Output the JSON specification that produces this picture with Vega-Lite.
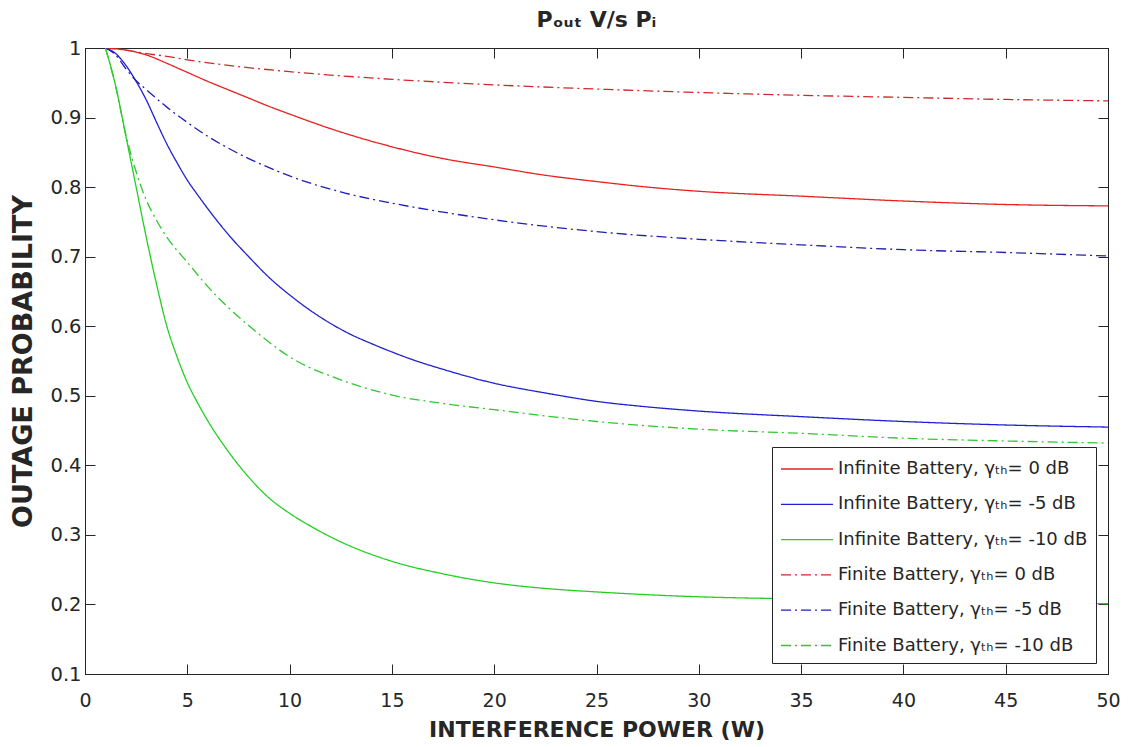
{
  "$schema": "https://vega.github.io/schema/vega-lite/v6.json",
  "width": 1023,
  "height": 626,
  "autosize": {"type": "none"},
  "padding": {"left": 85, "top": 48, "right": 23, "bottom": 73},
  "background": "white",
  "config": {
    "view": {"stroke": "#262626", "strokeWidth": 1},
    "font": "DejaVu Sans"
  },
  "title": {
    "text": "Pₒᵤₜ V/s Pᵢ",
    "font": "DejaVu Sans",
    "fontSize": 22,
    "fontWeight": "bold",
    "color": "#262626",
    "anchor": "middle",
    "offset": 6
  },
  "datasets": {
    "curves": [
      {"x": 1, "p": 1.0, "series": "Infinite Battery, γₜₕ= 0 dB"},
      {"x": 2, "p": 0.997, "series": "Infinite Battery, γₜₕ= 0 dB"},
      {"x": 3, "p": 0.99, "series": "Infinite Battery, γₜₕ= 0 dB"},
      {"x": 4, "p": 0.978, "series": "Infinite Battery, γₜₕ= 0 dB"},
      {"x": 5, "p": 0.965, "series": "Infinite Battery, γₜₕ= 0 dB"},
      {"x": 6, "p": 0.952, "series": "Infinite Battery, γₜₕ= 0 dB"},
      {"x": 7, "p": 0.94, "series": "Infinite Battery, γₜₕ= 0 dB"},
      {"x": 8, "p": 0.928, "series": "Infinite Battery, γₜₕ= 0 dB"},
      {"x": 9, "p": 0.916, "series": "Infinite Battery, γₜₕ= 0 dB"},
      {"x": 10, "p": 0.905, "series": "Infinite Battery, γₜₕ= 0 dB"},
      {"x": 12, "p": 0.884, "series": "Infinite Battery, γₜₕ= 0 dB"},
      {"x": 15, "p": 0.858, "series": "Infinite Battery, γₜₕ= 0 dB"},
      {"x": 17.5, "p": 0.841, "series": "Infinite Battery, γₜₕ= 0 dB"},
      {"x": 20, "p": 0.829, "series": "Infinite Battery, γₜₕ= 0 dB"},
      {"x": 22.5, "p": 0.817, "series": "Infinite Battery, γₜₕ= 0 dB"},
      {"x": 25, "p": 0.808, "series": "Infinite Battery, γₜₕ= 0 dB"},
      {"x": 27.5, "p": 0.8, "series": "Infinite Battery, γₜₕ= 0 dB"},
      {"x": 30, "p": 0.794, "series": "Infinite Battery, γₜₕ= 0 dB"},
      {"x": 35, "p": 0.787, "series": "Infinite Battery, γₜₕ= 0 dB"},
      {"x": 40, "p": 0.78, "series": "Infinite Battery, γₜₕ= 0 dB"},
      {"x": 45, "p": 0.775, "series": "Infinite Battery, γₜₕ= 0 dB"},
      {"x": 50, "p": 0.773, "series": "Infinite Battery, γₜₕ= 0 dB"},

      {"x": 1, "p": 1.0, "series": "Infinite Battery, γₜₕ= -5 dB"},
      {"x": 1.5, "p": 0.992, "series": "Infinite Battery, γₜₕ= -5 dB"},
      {"x": 2, "p": 0.975, "series": "Infinite Battery, γₜₕ= -5 dB"},
      {"x": 2.5, "p": 0.952, "series": "Infinite Battery, γₜₕ= -5 dB"},
      {"x": 3, "p": 0.925, "series": "Infinite Battery, γₜₕ= -5 dB"},
      {"x": 3.5, "p": 0.893, "series": "Infinite Battery, γₜₕ= -5 dB"},
      {"x": 4, "p": 0.862, "series": "Infinite Battery, γₜₕ= -5 dB"},
      {"x": 4.5, "p": 0.835, "series": "Infinite Battery, γₜₕ= -5 dB"},
      {"x": 5, "p": 0.81, "series": "Infinite Battery, γₜₕ= -5 dB"},
      {"x": 5.5, "p": 0.789, "series": "Infinite Battery, γₜₕ= -5 dB"},
      {"x": 6, "p": 0.769, "series": "Infinite Battery, γₜₕ= -5 dB"},
      {"x": 7, "p": 0.732, "series": "Infinite Battery, γₜₕ= -5 dB"},
      {"x": 8, "p": 0.7, "series": "Infinite Battery, γₜₕ= -5 dB"},
      {"x": 9, "p": 0.67, "series": "Infinite Battery, γₜₕ= -5 dB"},
      {"x": 10, "p": 0.645, "series": "Infinite Battery, γₜₕ= -5 dB"},
      {"x": 11, "p": 0.623, "series": "Infinite Battery, γₜₕ= -5 dB"},
      {"x": 12, "p": 0.604, "series": "Infinite Battery, γₜₕ= -5 dB"},
      {"x": 13, "p": 0.588, "series": "Infinite Battery, γₜₕ= -5 dB"},
      {"x": 14, "p": 0.575, "series": "Infinite Battery, γₜₕ= -5 dB"},
      {"x": 15, "p": 0.563, "series": "Infinite Battery, γₜₕ= -5 dB"},
      {"x": 16, "p": 0.552, "series": "Infinite Battery, γₜₕ= -5 dB"},
      {"x": 17.5, "p": 0.538, "series": "Infinite Battery, γₜₕ= -5 dB"},
      {"x": 20, "p": 0.518, "series": "Infinite Battery, γₜₕ= -5 dB"},
      {"x": 22.5, "p": 0.504, "series": "Infinite Battery, γₜₕ= -5 dB"},
      {"x": 25, "p": 0.492, "series": "Infinite Battery, γₜₕ= -5 dB"},
      {"x": 27.5, "p": 0.484, "series": "Infinite Battery, γₜₕ= -5 dB"},
      {"x": 30, "p": 0.478, "series": "Infinite Battery, γₜₕ= -5 dB"},
      {"x": 35, "p": 0.47, "series": "Infinite Battery, γₜₕ= -5 dB"},
      {"x": 40, "p": 0.463, "series": "Infinite Battery, γₜₕ= -5 dB"},
      {"x": 45, "p": 0.458, "series": "Infinite Battery, γₜₕ= -5 dB"},
      {"x": 50, "p": 0.455, "series": "Infinite Battery, γₜₕ= -5 dB"},

      {"x": 1, "p": 1.0, "series": "Infinite Battery, γₜₕ= -10 dB"},
      {"x": 1.5, "p": 0.945, "series": "Infinite Battery, γₜₕ= -10 dB"},
      {"x": 2, "p": 0.873, "series": "Infinite Battery, γₜₕ= -10 dB"},
      {"x": 2.5, "p": 0.8, "series": "Infinite Battery, γₜₕ= -10 dB"},
      {"x": 3, "p": 0.727, "series": "Infinite Battery, γₜₕ= -10 dB"},
      {"x": 3.5, "p": 0.66, "series": "Infinite Battery, γₜₕ= -10 dB"},
      {"x": 4, "p": 0.6, "series": "Infinite Battery, γₜₕ= -10 dB"},
      {"x": 4.5, "p": 0.556, "series": "Infinite Battery, γₜₕ= -10 dB"},
      {"x": 5, "p": 0.519, "series": "Infinite Battery, γₜₕ= -10 dB"},
      {"x": 5.5, "p": 0.49, "series": "Infinite Battery, γₜₕ= -10 dB"},
      {"x": 6, "p": 0.464, "series": "Infinite Battery, γₜₕ= -10 dB"},
      {"x": 7, "p": 0.42, "series": "Infinite Battery, γₜₕ= -10 dB"},
      {"x": 8, "p": 0.383, "series": "Infinite Battery, γₜₕ= -10 dB"},
      {"x": 9, "p": 0.353, "series": "Infinite Battery, γₜₕ= -10 dB"},
      {"x": 10, "p": 0.331, "series": "Infinite Battery, γₜₕ= -10 dB"},
      {"x": 11, "p": 0.313, "series": "Infinite Battery, γₜₕ= -10 dB"},
      {"x": 12.5, "p": 0.29, "series": "Infinite Battery, γₜₕ= -10 dB"},
      {"x": 15, "p": 0.262, "series": "Infinite Battery, γₜₕ= -10 dB"},
      {"x": 17.5, "p": 0.244, "series": "Infinite Battery, γₜₕ= -10 dB"},
      {"x": 20, "p": 0.231, "series": "Infinite Battery, γₜₕ= -10 dB"},
      {"x": 22.5, "p": 0.223, "series": "Infinite Battery, γₜₕ= -10 dB"},
      {"x": 25, "p": 0.218, "series": "Infinite Battery, γₜₕ= -10 dB"},
      {"x": 30, "p": 0.211, "series": "Infinite Battery, γₜₕ= -10 dB"},
      {"x": 35, "p": 0.208, "series": "Infinite Battery, γₜₕ= -10 dB"},
      {"x": 40, "p": 0.206, "series": "Infinite Battery, γₜₕ= -10 dB"},
      {"x": 45, "p": 0.203, "series": "Infinite Battery, γₜₕ= -10 dB"},
      {"x": 50, "p": 0.201, "series": "Infinite Battery, γₜₕ= -10 dB"},

      {"x": 1, "p": 1.0, "series": "Finite Battery, γₜₕ= 0 dB"},
      {"x": 2, "p": 0.997, "series": "Finite Battery, γₜₕ= 0 dB"},
      {"x": 3, "p": 0.992, "series": "Finite Battery, γₜₕ= 0 dB"},
      {"x": 4, "p": 0.988, "series": "Finite Battery, γₜₕ= 0 dB"},
      {"x": 5, "p": 0.983, "series": "Finite Battery, γₜₕ= 0 dB"},
      {"x": 7, "p": 0.975, "series": "Finite Battery, γₜₕ= 0 dB"},
      {"x": 10, "p": 0.966, "series": "Finite Battery, γₜₕ= 0 dB"},
      {"x": 12.5, "p": 0.96, "series": "Finite Battery, γₜₕ= 0 dB"},
      {"x": 15, "p": 0.955, "series": "Finite Battery, γₜₕ= 0 dB"},
      {"x": 20, "p": 0.947, "series": "Finite Battery, γₜₕ= 0 dB"},
      {"x": 25, "p": 0.941, "series": "Finite Battery, γₜₕ= 0 dB"},
      {"x": 30, "p": 0.936, "series": "Finite Battery, γₜₕ= 0 dB"},
      {"x": 35, "p": 0.932, "series": "Finite Battery, γₜₕ= 0 dB"},
      {"x": 40, "p": 0.929, "series": "Finite Battery, γₜₕ= 0 dB"},
      {"x": 45, "p": 0.926, "series": "Finite Battery, γₜₕ= 0 dB"},
      {"x": 50, "p": 0.924, "series": "Finite Battery, γₜₕ= 0 dB"},

      {"x": 1, "p": 1.0, "series": "Finite Battery, γₜₕ= -5 dB"},
      {"x": 1.5, "p": 0.99, "series": "Finite Battery, γₜₕ= -5 dB"},
      {"x": 2, "p": 0.97, "series": "Finite Battery, γₜₕ= -5 dB"},
      {"x": 2.5, "p": 0.953, "series": "Finite Battery, γₜₕ= -5 dB"},
      {"x": 3, "p": 0.94, "series": "Finite Battery, γₜₕ= -5 dB"},
      {"x": 4, "p": 0.915, "series": "Finite Battery, γₜₕ= -5 dB"},
      {"x": 5, "p": 0.893, "series": "Finite Battery, γₜₕ= -5 dB"},
      {"x": 6, "p": 0.873, "series": "Finite Battery, γₜₕ= -5 dB"},
      {"x": 7, "p": 0.856, "series": "Finite Battery, γₜₕ= -5 dB"},
      {"x": 8, "p": 0.841, "series": "Finite Battery, γₜₕ= -5 dB"},
      {"x": 9, "p": 0.828, "series": "Finite Battery, γₜₕ= -5 dB"},
      {"x": 10, "p": 0.816, "series": "Finite Battery, γₜₕ= -5 dB"},
      {"x": 12.5, "p": 0.793, "series": "Finite Battery, γₜₕ= -5 dB"},
      {"x": 15, "p": 0.777, "series": "Finite Battery, γₜₕ= -5 dB"},
      {"x": 17.5, "p": 0.764, "series": "Finite Battery, γₜₕ= -5 dB"},
      {"x": 20, "p": 0.753, "series": "Finite Battery, γₜₕ= -5 dB"},
      {"x": 25, "p": 0.736, "series": "Finite Battery, γₜₕ= -5 dB"},
      {"x": 30, "p": 0.725, "series": "Finite Battery, γₜₕ= -5 dB"},
      {"x": 35, "p": 0.717, "series": "Finite Battery, γₜₕ= -5 dB"},
      {"x": 40, "p": 0.71, "series": "Finite Battery, γₜₕ= -5 dB"},
      {"x": 45, "p": 0.706, "series": "Finite Battery, γₜₕ= -5 dB"},
      {"x": 50, "p": 0.701, "series": "Finite Battery, γₜₕ= -5 dB"},

      {"x": 1, "p": 1.0, "series": "Finite Battery, γₜₕ= -10 dB"},
      {"x": 1.5, "p": 0.945, "series": "Finite Battery, γₜₕ= -10 dB"},
      {"x": 2, "p": 0.875, "series": "Finite Battery, γₜₕ= -10 dB"},
      {"x": 2.5, "p": 0.822, "series": "Finite Battery, γₜₕ= -10 dB"},
      {"x": 3, "p": 0.781, "series": "Finite Battery, γₜₕ= -10 dB"},
      {"x": 3.5, "p": 0.752, "series": "Finite Battery, γₜₕ= -10 dB"},
      {"x": 4, "p": 0.728, "series": "Finite Battery, γₜₕ= -10 dB"},
      {"x": 5, "p": 0.692, "series": "Finite Battery, γₜₕ= -10 dB"},
      {"x": 6, "p": 0.657, "series": "Finite Battery, γₜₕ= -10 dB"},
      {"x": 7, "p": 0.627, "series": "Finite Battery, γₜₕ= -10 dB"},
      {"x": 8, "p": 0.601, "series": "Finite Battery, γₜₕ= -10 dB"},
      {"x": 9, "p": 0.577, "series": "Finite Battery, γₜₕ= -10 dB"},
      {"x": 10, "p": 0.556, "series": "Finite Battery, γₜₕ= -10 dB"},
      {"x": 12.5, "p": 0.523, "series": "Finite Battery, γₜₕ= -10 dB"},
      {"x": 15, "p": 0.501, "series": "Finite Battery, γₜₕ= -10 dB"},
      {"x": 17.5, "p": 0.489, "series": "Finite Battery, γₜₕ= -10 dB"},
      {"x": 20, "p": 0.48, "series": "Finite Battery, γₜₕ= -10 dB"},
      {"x": 25, "p": 0.463, "series": "Finite Battery, γₜₕ= -10 dB"},
      {"x": 30, "p": 0.452, "series": "Finite Battery, γₜₕ= -10 dB"},
      {"x": 35, "p": 0.446, "series": "Finite Battery, γₜₕ= -10 dB"},
      {"x": 40, "p": 0.439, "series": "Finite Battery, γₜₕ= -10 dB"},
      {"x": 45, "p": 0.435, "series": "Finite Battery, γₜₕ= -10 dB"},
      {"x": 50, "p": 0.432, "series": "Finite Battery, γₜₕ= -10 dB"}
    ]
  },
  "data": {"name": "curves"},
  "layer": [
    {
      "mark": {"type": "line", "strokeWidth": 1.3, "interpolate": "monotone", "clip": true},
      "encoding": {
        "x": {
          "field": "x", "type": "quantitative",
          "scale": {"domain": [0, 50], "nice": false, "zero": false},
          "axis": {
            "orient": "bottom",
            "values": [0, 5, 10, 15, 20, 25, 30, 35, 40, 45, 50],
            "title": "INTERFERENCE POWER (W)",
            "grid": false,
            "tickSize": -10,
            "tickColor": "#262626",
            "domainColor": "#262626",
            "labelColor": "#262626",
            "labelFont": "DejaVu Sans",
            "labelFontSize": 19,
            "labelPadding": 27,
            "labelFlush": false,
            "labelOverlap": false,
            "titleFont": "DejaVu Sans",
            "titleFontSize": 22,
            "titleFontWeight": "bold",
            "titleColor": "#262626",
            "titlePadding": 9
          }
        },
        "y": {
          "field": "p", "type": "quantitative",
          "scale": {"domain": [0.1, 1], "nice": false, "zero": false},
          "axis": {
            "orient": "left",
            "values": [0.1, 0.2, 0.3, 0.4, 0.5, 0.6, 0.7, 0.8, 0.9, 1],
            "format": ".1~f",
            "title": "OUTAGE PROBABILITY",
            "grid": false,
            "tickSize": -10,
            "tickColor": "#262626",
            "domainColor": "#262626",
            "labelColor": "#262626",
            "labelFont": "DejaVu Sans",
            "labelFontSize": 19.5,
            "labelPadding": 14,
            "labelFlush": false,
            "labelOverlap": false,
            "titleFont": "DejaVu Sans",
            "titleFontSize": 27,
            "titleFontWeight": "bold",
            "titleColor": "#262626",
            "titlePadding": 12
          }
        },
        "color": {
          "field": "series", "type": "nominal",
          "scale": {
            "domain": ["Infinite Battery, γₜₕ= 0 dB", "Infinite Battery, γₜₕ= -5 dB", "Infinite Battery, γₜₕ= -10 dB", "Finite Battery, γₜₕ= 0 dB", "Finite Battery, γₜₕ= -5 dB", "Finite Battery, γₜₕ= -10 dB"],
            "range": ["#e82020", "#2020d0", "#22d022", "#d02828", "#2020b0", "#30c830"]
          },
          "legend": {
            "title": null,
            "orient": "none",
            "legendX": 687,
            "legendY": 399,
            "direction": "vertical",
            "strokeColor": "#262626",
            "fillColor": "white",
            "padding": 8,
            "symbolType": "M-1,0H3",
            "symbolSize": 676,
            "symbolStrokeWidth": 1.3,
            "labelFont": "DejaVu Sans",
            "labelFontSize": 18,
            "labelColor": "#262626",
            "labelLimit": 400,
            "labelOffset": 30,
            "rowPadding": 12.3
          }
        },
        "strokeDash": {
          "field": "series", "type": "nominal",
          "scale": {
            "domain": ["Infinite Battery, γₜₕ= 0 dB", "Infinite Battery, γₜₕ= -5 dB", "Infinite Battery, γₜₕ= -10 dB", "Finite Battery, γₜₕ= 0 dB", "Finite Battery, γₜₕ= -5 dB", "Finite Battery, γₜₕ= -10 dB"],
            "range": [[1, 0], [1, 0], [1, 0], [10, 4, 2, 4], [10, 4, 2, 4], [10, 4, 2, 4]]
          },
          "legend": {
            "title": null,
            "orient": "none",
            "legendX": 687,
            "legendY": 399,
            "direction": "vertical",
            "strokeColor": "#262626",
            "fillColor": "white",
            "padding": 8,
            "symbolType": "M-1,0H3",
            "symbolSize": 676,
            "symbolStrokeWidth": 1.3,
            "labelFont": "DejaVu Sans",
            "labelFontSize": 18,
            "labelColor": "#262626",
            "labelLimit": 400,
            "labelOffset": 30,
            "rowPadding": 12.3
          }
        }
      }
    },
    {
      "mark": {"type": "point", "opacity": 0},
      "encoding": {
        "x": {
          "field": "x", "type": "quantitative",
          "axis": {
            "orient": "top",
            "values": [0, 5, 10, 15, 20, 25, 30, 35, 40, 45, 50],
            "labels": false,
            "title": null,
            "grid": false,
            "tickSize": -10,
            "tickColor": "#262626",
            "domainColor": "#262626"
          }
        },
        "y": {
          "field": "p", "type": "quantitative",
          "axis": {
            "orient": "right",
            "values": [0.1, 0.2, 0.3, 0.4, 0.5, 0.6, 0.7, 0.8, 0.9, 1],
            "labels": false,
            "title": null,
            "grid": false,
            "tickSize": -10,
            "tickColor": "#262626",
            "domainColor": "#262626"
          }
        }
      }
    }
  ],
  "resolve": {"axis": {"x": "independent", "y": "independent"}}
}
